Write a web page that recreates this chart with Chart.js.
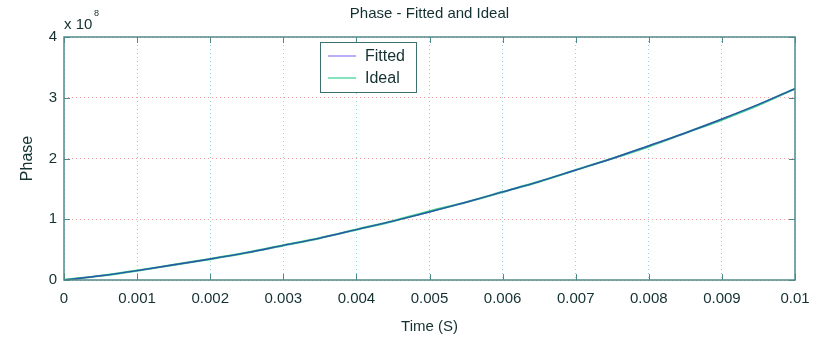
<!DOCTYPE html>
<html>
<head>
<meta charset="utf-8">
<script src="https://cdn.jsdelivr.net/npm/chart.js@4"></script>
<style>
  html, body { margin: 0; padding: 0; background: #fff; }
  #wrap { width: 820px; height: 341px; }
</style>
</head>
<body>
<div id="wrap"><canvas id="phaseChart" width="820" height="341"></canvas></div>
<script>
// time in seconds, phase in units of 1e8
const times = [0, 0.0005, 0.001, 0.0015, 0.002, 0.0025, 0.003, 0.0035, 0.004, 0.0045, 0.005,
  0.0055, 0.006, 0.0065, 0.007, 0.0075, 0.008, 0.0085, 0.009, 0.0095, 0.01];
const idealPhase = [0, 0.07, 0.155, 0.25, 0.345, 0.45, 0.57, 0.69, 0.83, 0.97, 1.13,
  1.28, 1.45, 1.62, 1.81, 2.0, 2.2, 2.42, 2.64, 2.88, 3.15];
const fittedPhase = [0, 0.07, 0.155, 0.25, 0.345, 0.45, 0.57, 0.69, 0.83, 0.97, 1.12,
  1.28, 1.45, 1.62, 1.81, 2.0, 2.21, 2.42, 2.65, 2.89, 3.15];
const xTicks = [0, 0.001, 0.002, 0.003, 0.004, 0.005, 0.006, 0.007, 0.008, 0.009, 0.01];
const yTicks = [0, 1, 2, 3, 4];

const textColor = '#143030';
const axisColor = '#4f8a8a';
const font = 'Liberation Sans';

const toPoints = (ys) => times.map((t, i) => ({ x: t, y: ys[i] }));

// box round the plot, inward tick marks, the x 10^8 note and the legend box
const framePlugin = {
  id: 'frame',
  afterDraw(chart) {
    const ctx = chart.ctx;
    const a = chart.chartArea;
    const xs = chart.scales.x, ys = chart.scales.y;
    ctx.save();
    ctx.strokeStyle = axisColor;
    ctx.lineWidth = 1.5;
    ctx.strokeRect(a.left, a.top, a.right - a.left, a.bottom - a.top);
    ctx.lineWidth = 1;
    xTicks.forEach(v => {
      const px = Math.round(xs.getPixelForValue(v)) + 0.5;
      ctx.beginPath();
      ctx.moveTo(px, a.bottom); ctx.lineTo(px, a.bottom - 6);
      ctx.moveTo(px, a.top); ctx.lineTo(px, a.top + 6);
      ctx.stroke();
    });
    yTicks.forEach(v => {
      const py = Math.round(ys.getPixelForValue(v)) + 0.5;
      ctx.beginPath();
      ctx.moveTo(a.left, py); ctx.lineTo(a.left + 6, py);
      ctx.moveTo(a.right, py); ctx.lineTo(a.right - 6, py);
      ctx.stroke();
    });

    // exponent note
    ctx.fillStyle = textColor;
    ctx.textBaseline = 'alphabetic';
    ctx.textAlign = 'left';
    ctx.font = '15px "' + font + '"';
    ctx.fillText('x 10', a.left, a.top - 8);
    ctx.font = '9px "' + font + '"';
    ctx.fillText('8', a.left + 30, a.top - 21);

    // legend
    const lx = 320, ly = 42, lw = 96, lh = 50;
    ctx.fillStyle = '#fff';
    ctx.fillRect(lx, ly, lw, lh);
    ctx.strokeStyle = '#3d6f6f';
    ctx.lineWidth = 1;
    ctx.strokeRect(lx + 0.5, ly + 0.5, lw, lh);
    ctx.font = '16px "' + font + '"';
    ctx.textBaseline = 'middle';
    const items = [chart.data.datasets[0], chart.data.datasets[1]];
    items.forEach((ds, i) => {
      const y = ly + 14 + i * 22;
      ctx.strokeStyle = ds.legendColor;
      ctx.lineWidth = 1.2;
      ctx.beginPath();
      ctx.moveTo(lx + 8, y); ctx.lineTo(lx + 36, y);
      ctx.stroke();
      ctx.fillStyle = textColor;
      ctx.fillText(ds.label, lx + 45, y + 1);
    });
    ctx.restore();
  }
};

const config = {
  type: 'line',
  data: {
    datasets: [
      {
        label: 'Fitted',
        data: toPoints(fittedPhase),
        borderColor: '#2c55a8',
        legendColor: '#8c78f5',
        borderWidth: 1.4,
        pointRadius: 0,
        tension: 0.3,
        fill: false,
        order: 0
      },
      {
        label: 'Ideal',
        data: toPoints(idealPhase),
        borderColor: '#36c98c',
        legendColor: '#2ed48f',
        borderWidth: 2.2,
        pointRadius: 0,
        tension: 0.3,
        fill: false,
        order: 1
      }
    ]
  },
  options: {
    responsive: false,
    animation: false,
    layout: { padding: { left: 0, right: 25, top: 0, bottom: 0 } },
    plugins: {
      legend: { display: false },
      tooltip: { enabled: false },
      title: {
        display: true,
        text: 'Phase - Fitted and Ideal',
        fullSize: false,
        color: textColor,
        font: { family: font, size: 15, weight: 'normal', lineHeight: 1.2 },
        padding: { top: 5, bottom: 14 }
      }
    },
    scales: {
      x: {
        type: 'linear',
        min: 0,
        max: 0.01,
        afterFit: (s) => { s.height = 61; },
        afterBuildTicks: (s) => { s.ticks = xTicks.map(v => ({ value: v })); },
        ticks: {
          color: textColor,
          font: { family: font, size: 15 },
          padding: 10,
          maxRotation: 0,
          callback: (v) => String(+v.toFixed(3))
        },
        grid: {
          color: '#8fd6dc',
          drawTicks: false
        },
        border: { display: false, dash: [1, 3] },
        title: {
          display: true,
          text: 'Time (S)',
          color: textColor,
          font: { family: font, size: 15, lineHeight: 1.2 },
          padding: { top: 0, bottom: 5 }
        }
      },
      y: {
        type: 'linear',
        min: 0,
        max: 4,
        afterFit: (s) => { s.width = 64; },
        afterBuildTicks: (s) => { s.ticks = yTicks.map(v => ({ value: v })); },
        ticks: {
          color: textColor,
          font: { family: font, size: 15 },
          padding: 7
        },
        grid: {
          color: '#f2a0a0',
          drawTicks: false
        },
        border: { display: false, dash: [1, 3] },
        title: {
          display: true,
          text: 'Phase',
          color: textColor,
          font: { family: font, size: 16, lineHeight: 1.2 },
          padding: { top: 18, bottom: 0 }
        }
      }
    }
  },
  plugins: [framePlugin]
};

const phaseChart = new Chart(document.getElementById('phaseChart'), config);
</script>
</body>
</html>
